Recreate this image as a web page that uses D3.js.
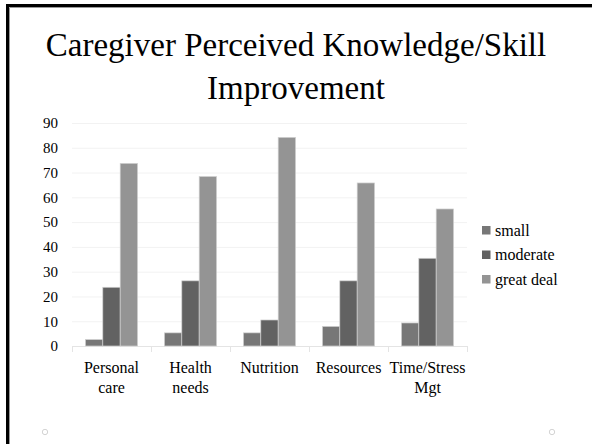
<!DOCTYPE html>
<html>
<head>
<meta charset="utf-8">
<script src="https://cdn.jsdelivr.net/npm/d3@7"></script>
<style>
  body { margin: 0; background: #fff; }
  svg { display: block; }
  text { font-family: "Palatino Linotype", "Book Antiqua", Palatino, "Liberation Serif", "DejaVu Serif", serif; fill: #000; }
</style>
</head>
<body>
<svg id="chart" width="592" height="444"></svg>
<script>
var categories = [["Personal", "care"], ["Health", "needs"], ["Nutrition"], ["Resources"], ["Time/Stress", "Mgt"]];
var seriesNames = ["small", "moderate", "great deal"];
var small = [2.6, 5.3, 5.3, 7.9, 9.3];
var moderate = [23.7, 26.3, 10.5, 26.3, 35.4];
var greatDeal = [73.7, 68.4, 84.2, 65.8, 55.3];
var yTicks = [0, 10, 20, 30, 40, 50, 60, 70, 80, 90];
var colors = ["#777777", "#626262", "#949494"];

(function() {
    var svg = d3.select("#chart");
    var margin = {top: 123, left: 72, right: 125, bottom: 98};
    var width = 592 - margin.left - margin.right;
    var height = 444 - margin.top - margin.bottom;
    var serif = "\"Palatino Linotype\", \"Book Antiqua\", Palatino, \"Liberation Serif\", serif";

    // slide frame: black bar left and top
    svg.append("path").attr("d", "M7.5,444 V5.5 H592").attr("fill", "none")
        .attr("stroke", "#000").attr("stroke-width", 3);
    svg.append("path").attr("d", "M9.5,444 V7.5 H592").attr("fill", "none")
        .attr("stroke", "#999").attr("stroke-width", 1);

    svg.append("text").attr("x", 296).attr("y", 56).attr("text-anchor", "middle")
        .style("font-size", "33px").text("Caregiver Perceived Knowledge/Skill");
    svg.append("text").attr("x", 296).attr("y", 99).attr("text-anchor", "middle")
        .style("font-size", "33px").text("Improvement");

    var g = svg.append("g").attr("transform", "translate(" + margin.left + "," + margin.top + ")");

    var keys = categories.map(function(d) { return d.join(" "); });
    var x = d3.scaleBand().domain(keys).range([0, width]).paddingInner(0.34).paddingOuter(0.17);
    var x1 = d3.scaleBand().domain(seriesNames).range([0, x.bandwidth()]);
    var y = d3.scaleLinear().domain([0, 90]).range([height, 0]);

    // grid
    g.append("g").selectAll("line").data(yTicks.slice(1)).enter().append("line")
        .attr("x1", 0).attr("x2", width)
        .attr("y1", function(d) { return y(d) + 0.5; }).attr("y2", function(d) { return y(d) + 0.5; })
        .attr("stroke", "#f2f2f2");

    var yAxis = g.append("g").call(d3.axisLeft(y).tickValues(yTicks).tickSize(0).tickPadding(14));
    yAxis.attr("font-family", null).attr("font-size", null);
    yAxis.select(".domain").remove();
    yAxis.selectAll("text").style("font-size", "15px").style("font-family", serif);

    // bottom axis line with ticks at category boundaries
    var bounds = d3.range(keys.length + 1).map(function(i) { return i * width / keys.length; });
    g.append("line").attr("x1", 0).attr("x2", width).attr("y1", height + 0.5).attr("y2", height + 0.5)
        .attr("stroke", "#e4e4e4");
    g.append("g").selectAll("line").data(bounds).enter().append("line")
        .attr("x1", function(d) { return Math.round(d) + 0.5; }).attr("x2", function(d) { return Math.round(d) + 0.5; })
        .attr("y1", height).attr("y2", height + 6).attr("stroke", "#e4e4e4");

    var series = [small, moderate, greatDeal];
    var groups = g.append("g").selectAll("g").data(keys).enter().append("g")
        .attr("transform", function(d) { return "translate(" + x(d) + ",0)"; });
    groups.selectAll("rect").data(function(d, i) {
            return series.map(function(s, j) { return {key: seriesNames[j], value: s[i], j: j}; });
        }).enter().append("rect")
        .attr("x", function(d) { return x1(d.key); })
        .attr("y", function(d) { return y(d.value); })
        .attr("width", x1.bandwidth())
        .attr("height", function(d) { return height - y(d.value); })
        .attr("fill", function(d) { return colors[d.j]; })
        .attr("stroke", "#d0d0d0").attr("stroke-width", 0.7);

    // category labels
    var labels = g.append("g").selectAll("text").data(categories).enter().append("text")
        .attr("text-anchor", "middle")
        .attr("transform", function(d, i) { return "translate(" + (x(keys[i]) + x.bandwidth() / 2) + "," + (height + 27) + ")"; })
        .style("font-size", "16px");
    labels.selectAll("tspan").data(function(d) { return d; }).enter().append("tspan")
        .attr("x", 0).attr("dy", function(d, i) { return i === 0 ? 0 : 20; })
        .text(function(d) { return d; });

    // legend
    var legend = svg.append("g").selectAll("g").data(seriesNames).enter().append("g")
        .attr("transform", function(d, i) { return "translate(482," + (226 + i * 24.5) + ")"; });
    legend.append("rect").attr("width", 8.5).attr("height", 8.5)
        .attr("fill", function(d, i) { return colors[i]; });
    legend.append("text").attr("x", 13).attr("y", 9.5).style("font-size", "16px")
        .text(function(d) { return d; });

    // slide decoration circles
    svg.selectAll("circle").data([45, 552]).enter().append("circle")
        .attr("cx", function(d) { return d; }).attr("cy", 432).attr("r", 2.7)
        .attr("fill", "none").attr("stroke", "#c8c8c8").attr("stroke-width", 0.8);
}());
</script>
</body>
</html>
